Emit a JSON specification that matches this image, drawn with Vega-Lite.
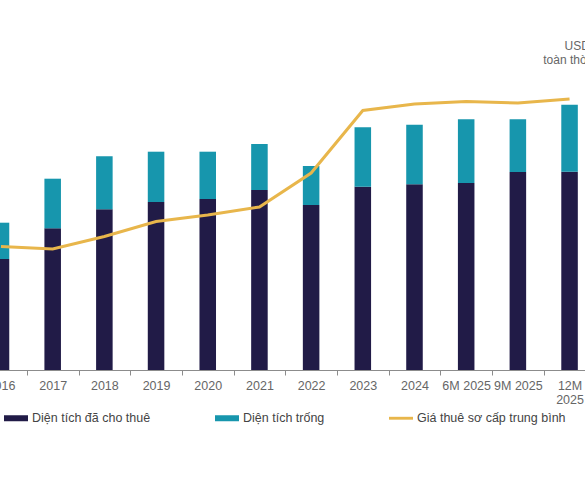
{
  "$schema": "https://vega.github.io/schema/vega-lite/v6.json",
  "width": 585,
  "height": 370,
  "autosize": {"type": "none"},
  "padding": {"left": 0, "top": 0, "right": 0, "bottom": 110},
  "config": {
    "view": {"stroke": null},
    "font": "Liberation Sans"
  },
  "data": {
    "values": [
      {"period": "2016", "leased": 1110, "vacant": 363, "rent": 24.7},
      {"period": "2017", "leased": 1417, "vacant": 496, "rent": 24.2},
      {"period": "2018", "leased": 1607, "vacant": 530, "rent": 26.7},
      {"period": "2019", "leased": 1680, "vacant": 503, "rent": 29.7},
      {"period": "2020", "leased": 1710, "vacant": 473, "rent": 31.0},
      {"period": "2021", "leased": 1800, "vacant": 460, "rent": 32.6},
      {"period": "2022", "leased": 1650, "vacant": 390, "rent": 39.4},
      {"period": "2023", "leased": 1833, "vacant": 594, "rent": 51.9},
      {"period": "2024", "leased": 1857, "vacant": 596, "rent": 53.2},
      {"period": "6M 2025", "leased": 1870, "vacant": 637, "rent": 53.7},
      {"period": "9M 2025", "leased": 1980, "vacant": 527, "rent": 53.4},
      {"period": "12M 2025", "leased": 1983, "vacant": 670, "rent": 54.2}
    ]
  },
  "encoding": {
    "x": {
      "field": "period",
      "type": "ordinal",
      "sort": null,
      "scale": {"range": [-24.85, 595.4], "paddingInner": 0, "paddingOuter": 0},
      "axis": {
        "title": null,
        "labelAngle": 0,
        "tickBand": "extent",
        "domainColor": "#8c8c8c",
        "tickColor": "#8c8c8c",
        "tickSize": 5,
        "labelColor": "#666666",
        "labelFontSize": 12.5,
        "labelPadding": 4,
        "labelOverlap": false,
        "labelLineHeight": 14,
        "labelExpr": "datum.value == '12M 2025' ? ['12M', '2025'] : datum.value"
      }
    },
    "color": {
      "scale": {
        "domain": ["leased", "vacant", "rent"],
        "range": ["#211b47", "#1796ad", "#e8b64b"]
      },
      "legend": {
        "title": null,
        "orient": "none",
        "direction": "horizontal",
        "legendX": 4,
        "legendY": 406,
        "columnPadding": 64,
        "labelFontSize": 12.5,
        "labelColor": "#444444",
        "labelOffset": 4,
        "symbolSize": 576,
        "labelExpr": "datum.value == 'leased' ? 'Diện tích đã cho thuê' : datum.value == 'vacant' ? 'Diện tích trống' : 'Giá thuê sơ cấp trung bình'",
        "encode": {
          "symbols": {
            "update": {
              "shape": {"signal": "datum.value == 'rent' ? 'M-1,-0.12H1V0.12H-1Z' : 'M-1,-0.25H1V0.25H-1Z'"},
              "fill": {"scale": "color", "field": "value"},
              "strokeWidth": {"value": 0},
              "opacity": {"value": 1}
            }
          }
        }
      }
    }
  },
  "layer": [
    {
      "transform": [{"fold": ["leased", "vacant"], "as": ["type", "area"]}],
      "mark": {"type": "bar", "width": {"band": 0.32}},
      "encoding": {
        "y": {
          "field": "area",
          "type": "quantitative",
          "stack": "zero",
          "scale": {"domain": [0, 3700]},
          "axis": null
        },
        "color": {"field": "type", "type": "nominal"},
        "order": {"field": "type", "sort": "ascending"}
      }
    },
    {
      "mark": {"type": "line", "strokeWidth": 3},
      "encoding": {
        "y": {
          "field": "rent",
          "type": "quantitative",
          "scale": {"domain": [0, 74]},
          "axis": {
            "orient": "right",
            "title": ["USD/m²/tháng", "toàn thời hạn thuê"],
            "titleAngle": 0,
            "titleAlign": "right",
            "titleBaseline": "top",
            "titleX": 55,
            "titleY": 40,
            "titleFontSize": 12,
            "titleFontWeight": "normal",
            "titleColor": "#666666",
            "titleLineHeight": 14,
            "labels": false,
            "ticks": false,
            "domain": false,
            "grid": false
          }
        },
        "color": {"datum": "rent"}
      }
    }
  ],
  "resolve": {"scale": {"y": "independent"}}
}
